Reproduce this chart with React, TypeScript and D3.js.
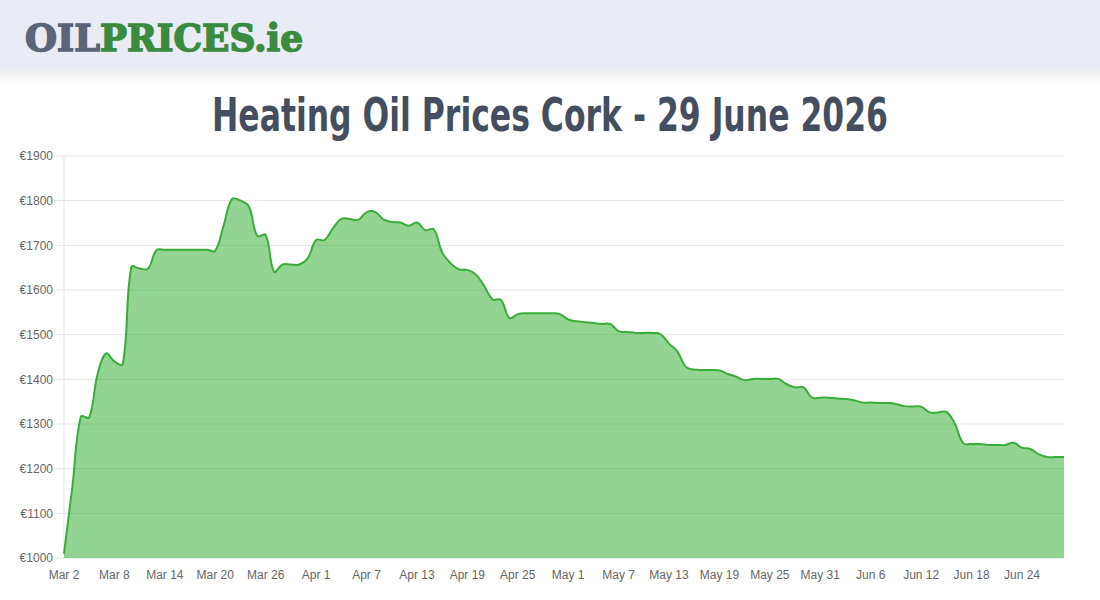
import React from 'react'
import * as d3 from 'd3'

// daily prices, Mar 2 -> Jun 29
const startDate = new Date(2026, 2, 2)
const prices: number[] = [
    1010, 1160, 1316, 1315, 1412, 1458, 1440, 1434, 1651, 1648,
    1648, 1689, 1690, 1690, 1690, 1690, 1690, 1690, 1688, 1745,
    1804, 1800, 1787, 1721, 1723, 1641, 1657, 1657, 1657, 1671,
    1712, 1712, 1738, 1759, 1759, 1757, 1774, 1775, 1758, 1752,
    1751, 1744, 1751, 1734, 1736, 1684, 1660, 1646, 1645, 1635,
    1609, 1579, 1578, 1537, 1546, 1548, 1548, 1548, 1548, 1546,
    1534, 1530, 1528, 1526, 1524, 1524, 1508, 1506, 1504, 1504,
    1504, 1501, 1480, 1462, 1428, 1422, 1421, 1421, 1420, 1412,
    1406, 1398, 1401, 1401, 1401, 1401, 1389, 1382, 1382, 1359,
    1359, 1359, 1357, 1356, 1353, 1348, 1348, 1347, 1347, 1345,
    1340, 1339, 1339, 1326, 1326, 1327, 1301, 1257, 1255, 1255,
    1253, 1253, 1253, 1258, 1247, 1244, 1232, 1226, 1226, 1226,
]
const dates: Date[] = prices.map((_, i) => d3.timeDay.offset(startDate, i))
const yTicks = [1000, 1100, 1200, 1300, 1400, 1500, 1600, 1700, 1800, 1900]
const xTickEvery = 6

const title = 'Heating Oil Prices Cork - 29 June 2026'

const W = 1100
const H = 600
const plot = { left: 64, right: 1064, top: 156, bottom: 558 }

// bezier smoothing in the same spirit as chart.js (tension 0.4)
function splinePath(pts: [number, number][], tension = 0.4): string {
    const cps = pts.map((cur, i) => {
        const prev = pts[i - 1] ?? cur
        const next = pts[i + 1] ?? cur
        const d01 = Math.hypot(cur[0] - prev[0], cur[1] - prev[1])
        const d12 = Math.hypot(next[0] - cur[0], next[1] - cur[1])
        let s01 = d01 / (d01 + d12)
        let s12 = d12 / (d01 + d12)
        if (isNaN(s01)) s01 = 0
        if (isNaN(s12)) s12 = 0
        const fa = tension * s01
        const fb = tension * s12
        const clampY = (v: number) => Math.max(plot.top, Math.min(plot.bottom, v))
        return {
            prev: [cur[0] - fa * (next[0] - prev[0]), clampY(cur[1] - fa * (next[1] - prev[1]))],
            next: [cur[0] + fb * (next[0] - prev[0]), clampY(cur[1] + fb * (next[1] - prev[1]))],
        }
    })
    let d = `M${pts[0][0]},${pts[0][1]}`
    for (let i = 1; i < pts.length; i++) {
        const a = cps[i - 1].next
        const b = cps[i].prev
        d += `C${a[0]},${a[1]},${b[0]},${b[1]},${pts[i][0]},${pts[i][1]}`
    }
    return d
}

const App: React.FC = () => {
    const x = d3
        .scaleTime()
        .domain([dates[0], dates[dates.length - 1]])
        .range([plot.left, plot.right])
    const y = d3.scaleLinear().domain([1000, 1900]).range([plot.bottom, plot.top])

    const fmt = d3.timeFormat('%b %-d')
    const xTicks = dates.filter((_, i) => i % xTickEvery === 0)

    const pts = prices.map((v, i) => [x(dates[i]), y(v)] as [number, number])
    const linePath = splinePath(pts)
    const areaPath =
        linePath +
        `L${pts[pts.length - 1][0]},${y(1000)}L${pts[0][0]},${y(1000)}Z`

    const axisFont = '"Liberation Sans", Arial, sans-serif'

    return (
        <svg
            width={W}
            height={H}
            style={{ position: 'absolute', left: 0, top: 0, background: '#fff' }}
        >
            <defs>
                <linearGradient id="hdrShadow" x1="0" y1="0" x2="0" y2="1">
                    <stop offset="0" stopColor="#000" stopOpacity={0.07} />
                    <stop offset="1" stopColor="#000" stopOpacity={0} />
                </linearGradient>
            </defs>

            {/* header band + logo */}
            <rect x={0} y={70} width={W} height={14} fill="url(#hdrShadow)" />
            <rect x={0} y={0} width={W} height={70} fill="#e9ecf4" />
            <text
                x={25}
                y={51}
                fontFamily='"DejaVu Serif", serif'
                fontWeight={900}
                fontSize={38}
                fill="#5b6479"
                stroke="#5b6479"
                strokeWidth={1.6}
                textLength={75}
                lengthAdjust="spacingAndGlyphs"
            >
                OIL
            </text>
            <text
                x={100}
                y={51}
                fontFamily='"DejaVu Serif", serif'
                fontWeight={900}
                fontSize={38}
                fill="#3a8b3f"
                stroke="#3a8b3f"
                strokeWidth={1.6}
                textLength={203}
                lengthAdjust="spacingAndGlyphs"
            >
                PRICES.ie
            </text>

            {/* title */}
            <text
                x={W / 2}
                y={131}
                textAnchor="middle"
                fontFamily='"Liberation Sans Narrow", "DejaVu Sans Condensed", Roboto, sans-serif'
                fontWeight={600}
                fontSize={46}
                fill="#454e5e"
                textLength={676}
                lengthAdjust="spacingAndGlyphs"
            >
                {title}
            </text>

            {/* y grid + labels */}
            {yTicks.map((t) => (
                <g key={t}>
                    <line
                        x1={plot.left - 10}
                        x2={plot.right}
                        y1={y(t)}
                        y2={y(t)}
                        stroke="#e5e5e5"
                        strokeWidth={1}
                    />
                    <text
                        x={plot.left - 11}
                        y={y(t)}
                        dy="0.35em"
                        textAnchor="end"
                        fontFamily={axisFont}
                        fontSize={12}
                        fill="#666"
                    >
                        €{t}
                    </text>
                </g>
            ))}
            <line
                x1={plot.left}
                x2={plot.left}
                y1={plot.top}
                y2={plot.bottom}
                stroke="#e5e5e5"
                strokeWidth={1}
            />

            {/* area + line */}
            <path d={areaPath} fill="rgba(40,170,40,0.5)" />
            <path d={linePath} fill="none" stroke="#38ad38" strokeWidth={2} />

            {/* x labels */}
            {xTicks.map((d) => (
                <text
                    key={d.getTime()}
                    x={x(d)}
                    y={579}
                    textAnchor="middle"
                    fontFamily={axisFont}
                    fontSize={12}
                    fill="#666"
                >
                    {fmt(d)}
                </text>
            ))}
        </svg>
    )
}

export default App
